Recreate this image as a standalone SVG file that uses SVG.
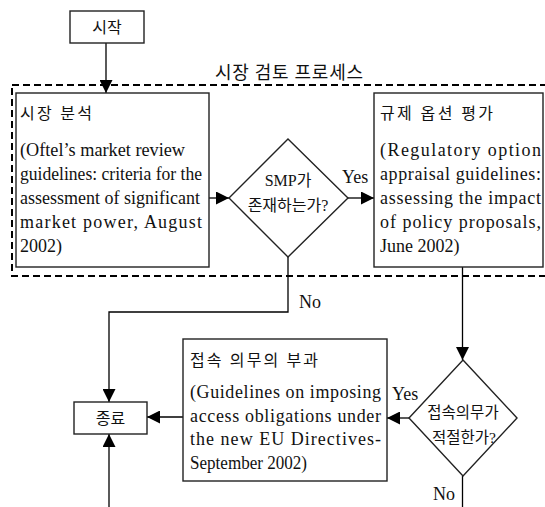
<svg xmlns="http://www.w3.org/2000/svg" width="545" height="507" viewBox="0 0 545 507">
<style>
text{font-family:"Liberation Serif","Noto Sans CJK KR",serif;fill:#111;}
.en{font-size:18px;}
.ko{font-size:16px;}
.mid{text-anchor:middle;}
.box{fill:#fff;stroke:#222;stroke-width:1.4;}
.line{fill:none;stroke:#000;stroke-width:1.3;}
.dash{fill:none;stroke:#000;stroke-width:2;stroke-dasharray:7 4;}
</style>
<defs>
<marker id="ah" markerUnits="userSpaceOnUse" markerWidth="13" markerHeight="13" refX="13" refY="6.5" orient="auto">
<path d="M0,0 L13,6.5 L0,13 Z" fill="#000"/>
</marker>
</defs>
<rect class="dash" x="12" y="85" width="540" height="191"/>
<text class="ko mid" x="289" y="79" style="font-size:18px" textLength="148" lengthAdjust="spacing">시장 검토 프로세스</text>
<g id="connectors">
<line class="line" x1="106" y1="43" x2="106" y2="93" marker-end="url(#ah)"/>
<line class="line" x1="209" y1="198" x2="229" y2="198" marker-end="url(#ah)"/>
<line class="line" x1="348" y1="198" x2="374" y2="198" marker-end="url(#ah)"/>
<polyline class="line" points="288,257 288,312 109,312 109,402" marker-end="url(#ah)"/>
<line class="line" x1="462.5" y1="267" x2="462.5" y2="360" marker-end="url(#ah)"/>
<line class="line" x1="409" y1="418" x2="387" y2="418" marker-end="url(#ah)"/>
<line class="line" x1="183" y1="417" x2="147" y2="417" marker-end="url(#ah)"/>
<line class="line" x1="109" y1="507" x2="109" y2="434" marker-end="url(#ah)"/>
<line class="line" x1="462.5" y1="476" x2="462.5" y2="507"/>
<text class="en" x="342" y="183">Yes</text>
<text class="en" x="299" y="308">No</text>
<text class="en" x="392" y="400">Yes</text>
<text class="en" x="433" y="500">No</text>
</g>
<g id="start">
<rect class="box" x="70" y="11" width="74" height="32"/>
<text class="ko mid" x="107" y="33">시작</text>
</g>
<g id="market-analysis">
<rect class="box" x="16" y="93" width="193" height="174"/>
<text class="ko" x="20" y="119" textLength="72" lengthAdjust="spacing">시장 분석</text>
<text class="en" x="20" y="156" textLength="165" lengthAdjust="spacingAndGlyphs">(Oftel’s market review</text>
<text class="en" x="20" y="180" textLength="182" lengthAdjust="spacingAndGlyphs">guidelines: criteria for the</text>
<text class="en" x="20" y="204" textLength="180" lengthAdjust="spacingAndGlyphs">assessment of significant</text>
<text class="en" x="20" y="228" textLength="182" lengthAdjust="spacing">market power, August</text>
<text class="en" x="20" y="252">2002)</text>
</g>
<g id="smp">
<polygon class="box" points="288,139 348,198 288,257 229,198"/>
<text class="ko mid" x="288" y="186">SMP가</text>
<text class="ko mid" x="288" y="211">존재하는가?</text>
</g>
<g id="regulatory-options">
<rect class="box" x="374" y="93" width="169" height="174"/>
<text class="ko" x="380" y="119" textLength="113" lengthAdjust="spacing">규제 옵션 평가</text>
<text class="en" x="380" y="156" textLength="161" lengthAdjust="spacing">(Regulatory option</text>
<text class="en" x="380" y="180" textLength="161" lengthAdjust="spacing">appraisal guidelines:</text>
<text class="en" x="380" y="204" textLength="161" lengthAdjust="spacing">assessing the impact</text>
<text class="en" x="380" y="228" textLength="161" lengthAdjust="spacing">of policy proposals,</text>
<text class="en" x="380" y="252">June 2002)</text>
</g>
<g id="access-decision">
<polygon class="box" points="463,360 517,418 463,476 409,418"/>
<text class="ko mid" x="463" y="418" style="font-size:15.5px">접속의무가</text>
<text class="ko mid" x="464" y="443" style="font-size:15.5px">적절한가?</text>
</g>
<g id="access-obligations">
<rect class="box" x="183" y="339" width="204" height="142"/>
<text class="ko" x="190" y="366" textLength="128" lengthAdjust="spacing">접속 의무의 부과</text>
<text class="en" x="190" y="398" textLength="191" lengthAdjust="spacing">(Guidelines on imposing</text>
<text class="en" x="190" y="421.5" textLength="191" lengthAdjust="spacing">access obligations under</text>
<text class="en" x="190" y="445" textLength="191" lengthAdjust="spacing">the new EU Directives-</text>
<text class="en" x="190" y="468.5" textLength="117" lengthAdjust="spacingAndGlyphs">September 2002)</text>
</g>
<g id="end">
<rect class="box" x="74" y="402" width="73" height="32"/>
<text class="ko mid" x="110.5" y="424">종료</text>
</g>
</svg>
